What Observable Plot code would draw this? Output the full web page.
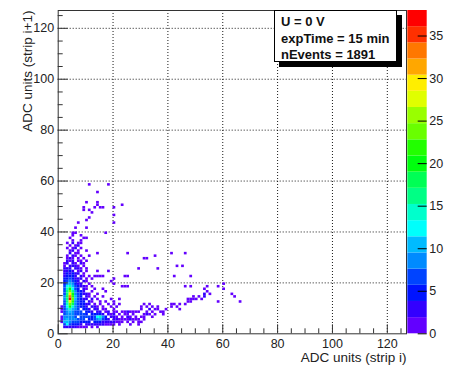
<!DOCTYPE html>
<html><head><meta charset="utf-8">
<script src="https://cdn.jsdelivr.net/npm/d3@7"></script>
<script src="https://cdn.jsdelivr.net/npm/@observablehq/plot@0.6"></script>
<style>
html,body{margin:0;padding:0;background:#fff;}
#wrap{position:relative;width:452px;height:368px;font-family:"Liberation Sans",Arial,Helvetica,sans-serif;}
#wrap svg{position:absolute;left:0;top:0;}
#stats{position:absolute;left:274px;top:10px;width:123px;height:52px;border:1px solid #000;background:#fff;
  box-shadow:5px 5px 0 #000;box-sizing:border-box;padding:3px 0 0 6px;font-weight:bold;font-size:13px;line-height:16.7px;color:#111;white-space:nowrap;}
</style></head>
<body><div id="wrap"></div>
<script>
// ---- chart values ----
const xRange = [0, 127];
const yRange = [0, 127];
const xTicks = [0, 20, 40, 60, 80, 100, 120];
const yTicks = [0, 20, 40, 60, 80, 100, 120];
const colorTicks = [0, 5, 10, 15, 20, 25, 30, 35];
const zMax = 38;
const nContours = 20;
const xTitle = "ADC units (strip i)";
const yTitle = "ADC units (strip i+1)";
const statsLines = ["U = 0 V", "expTime = 15 min", "nEvents = 1891"];

// dense region counts: columns x = 1..24, rows y = 40 (first) down to 2 (last)
const denseX0 = 1;
const denseYTop = 40;
const denseRows = [
  [0,0,0,0,0,0,0,0,0,0,0,0,0,0,0,0,0,0,0,0,0,0,0,0],
  [0,0,0,0,1,1,0,0,0,0,0,0,0,0,0,0,1,0,0,0,0,0,0,0],
  [0,0,0,0,1,0,0,1,0,0,0,0,0,0,0,0,0,0,0,0,0,0,0,0],
  [0,0,0,1,0,0,0,0,1,1,0,0,0,0,0,0,0,0,0,0,0,0,0,0],
  [0,0,0,0,1,0,0,1,0,0,0,0,0,0,0,0,0,0,0,0,0,0,0,0],
  [0,0,1,0,2,0,1,1,0,0,0,0,0,0,0,0,0,0,0,0,0,0,0,0],
  [0,0,0,1,0,1,2,0,0,0,0,0,0,0,0,0,0,0,0,0,0,0,0,0],
  [0,0,1,0,1,2,0,1,0,0,0,0,0,0,0,0,0,0,0,0,0,0,0,0],
  [0,0,0,1,2,0,1,0,0,1,0,0,0,0,0,0,0,0,0,0,0,0,0,0],
  [0,0,0,2,0,1,1,0,0,0,0,0,0,1,0,0,0,0,0,0,0,0,0,0],
  [0,0,1,0,2,1,0,1,0,0,1,0,0,0,0,0,0,0,0,0,0,0,0,0],
  [0,0,1,2,1,0,1,0,1,0,0,0,0,0,0,0,0,0,0,0,0,0,0,0],
  [0,0,2,1,2,0,1,1,0,1,0,0,0,0,0,0,0,0,0,0,0,0,0,0],
  [0,1,2,0,2,1,0,2,1,0,0,0,0,0,0,0,0,0,0,0,0,0,0,0],
  [0,1,0,3,2,2,1,0,1,0,0,0,0,0,0,0,0,0,0,0,0,0,0,0],
  [0,2,3,2,0,2,2,1,0,1,0,0,0,0,0,0,0,0,0,0,0,0,0,0],
  [0,2,3,4,3,0,1,2,0,1,0,0,0,1,0,0,0,1,0,0,0,0,0,0],
  [0,3,4,3,4,3,2,0,1,0,0,0,0,0,0,0,0,0,0,0,0,0,0,0],
  [0,3,4,5,4,3,0,2,1,0,1,0,1,1,1,1,0,0,0,0,0,0,0,1],
  [0,4,5,6,5,3,3,2,0,1,0,1,0,0,0,0,0,0,0,1,0,0,0,0],
  [0,4,7,8,6,4,3,0,2,1,0,0,0,0,0,0,0,0,1,0,0,0,0,0],
  [0,5,9,11,8,5,3,2,0,0,1,0,0,0,0,0,0,0,0,1,0,0,0,0],
  [0,6,12,15,10,6,4,3,2,1,0,1,0,0,0,0,0,0,0,0,0,0,1,1],
  [0,6,14,19,13,7,5,0,2,1,0,0,1,0,0,1,0,0,0,0,0,0,0,0],
  [0,7,16,24,17,8,5,4,2,0,0,1,0,0,0,0,1,0,0,0,0,0,0,0],
  [0,7,17,29,20,9,6,4,3,2,1,0,0,1,0,0,0,0,0,0,0,0,0,0],
  [0,8,18,34,22,10,6,5,0,2,1,0,1,0,0,1,0,0,0,0,0,0,0,0],
  [0,8,17,38,24,10,7,5,3,2,0,2,0,1,0,0,0,0,1,0,0,1,0,0],
  [0,7,16,30,21,9,7,5,4,0,2,1,0,0,1,0,1,0,0,1,0,0,0,0],
  [0,7,15,24,18,9,6,5,4,3,2,0,1,0,1,0,0,1,0,1,0,1,0,0],
  [1,6,13,19,14,8,6,5,4,3,0,2,2,1,0,1,0,0,1,0,1,0,0,0],
  [1,6,11,14,11,8,6,0,5,4,3,0,2,2,0,1,1,0,0,1,0,0,0,0],
  [1,7,9,10,9,7,6,6,0,5,4,3,0,3,2,0,1,2,0,1,1,0,1,1],
  [0,7,8,9,8,7,7,6,6,5,0,4,4,5,4,3,0,2,1,2,0,1,0,1],
  [1,8,9,9,8,7,0,7,6,6,6,5,6,12,14,8,4,0,2,2,1,0,1,0],
  [1,9,10,9,8,8,7,6,6,0,5,5,6,9,10,7,4,3,0,2,2,1,1,1],
  [1,10,11,9,7,6,6,5,5,5,4,0,4,5,4,3,3,2,2,2,1,1,1,0],
  [0,7,12,7,5,4,4,3,0,3,3,3,2,2,2,2,1,1,1,1,0,1,0,0],
  [0,2,3,3,2,2,1,1,1,1,0,1,0,1,0,0,0,0,0,0,0,0,0,0]
];

// scattered cells outside the dense block
const extraX = [11,18,14,10,14,14,13,15,9,16,20,23,9,11,12,20,11,10,7,20,6,10,
  25,31,32,35,29,36,41,46,43,45,25,42,48,25,46,48,
  41,42,44,46,41,43,44,47,48,47,48,49,50,51,49,52,53,53,54,53,54,55,58,58,60,60,63,64,66,
  31,33,30,32,34,36,30,33,35,36,39,25,26,27,28,29,32,34,37,38,25,27,31,32,33,35,38,
  25,26,28,30,31,34,25,26,27,28,29,31,25,27,29,30,26,29];
const extraY = [58,58,55,51,51,50,49,49,49,49,49,50,48,48,47,46,45,44,43,43,41,41,
  31,29,29,30,25,25,31,31,26,26,22,22,22,18,18,18,
  11,11,11,11,10,10,9,12,12,13,13,13,13,14,14,13,14,15,16,17,18,15,12,18,17,19,15,14,12,
  11,11,10,10,10,10,9,9,9,9,9,8,8,8,8,8,8,8,8,8,7,7,7,7,7,7,7,
  6,6,6,6,6,6,5,5,5,5,5,5,4,4,4,4,3,3];
const extraN = [1,1,1,1,1,1,1,1,1,1,1,1,1,1,1,1,1,1,1,1,1,1,
  1,1,1,1,1,1,1,1,1,1,1,1,1,1,1,1,
  1,1,1,1,1,1,1,1,1,1,1,1,1,1,1,1,2,2,1,1,1,1,1,1,1,1,1,1,1,
  1,1,1,1,1,1,1,2,1,1,1,2,1,1,1,1,1,1,1,1,1,1,1,2,1,1,1,
  2,1,1,1,1,1,1,2,1,1,1,1,1,1,1,1,1,1];

// ---- build cells ----
const cells = [];
denseRows.forEach((row, r) => row.forEach((n, c) => {
  if (n > 0) cells.push({x: denseX0 + c, y: denseYTop - r, n});
}));
extraX.forEach((x, i) => cells.push({x, y: extraY[i], n: extraN[i]}));

// ROOT "pretty" palette (50 hues, 280 -> 0), sampled for 20 contours
const palette = d3.range(nContours).map(k => {
  const idx = Math.floor((k + 0.99) * 50 / nContours);
  const hue = 280 - (idx + 1) * 5.6;
  return d3.hsl(hue, 1, 0.5).formatHex();
});
const thresholds = d3.range(1, nContours).map(k => k * zMax / nContours);
const bands = d3.range(nContours).map(k => ({lo: k * zMax / nContours, hi: (k + 1) * zMax / nContours}));

const W = 452, H = 368;
const mL = 57.7, mR = 46, mT = 10, mB = 34.7;
const innerW = W - mL - mR, innerH = H - mT - mB;
const xMinor = d3.range(0, 127, 5).filter(v => v % 20 !== 0);
const yMinor = d3.range(0, 127, 5).filter(v => v % 20 !== 0);
const font = '"Liberation Sans", Arial, Helvetica, sans-serif';
const colorOpts = {type: "threshold", domain: thresholds, range: palette};

const main = Plot.plot({
  width: W, height: H,
  marginLeft: mL, marginRight: mR, marginTop: mT, marginBottom: mB,
  x: {domain: xRange},
  y: {domain: yRange},
  color: colorOpts,
  style: {fontFamily: font, fontSize: "12px", color: "#222", background: "#fff", overflow: "visible"},
  marks: [
    Plot.gridX(xTicks.slice(1), {stroke: "#000", strokeOpacity: 0.9, strokeDasharray: "1,2"}),
    Plot.gridY(yTicks.slice(1), {stroke: "#000", strokeOpacity: 0.9, strokeDasharray: "1,2"}),
    Plot.rect(cells, {x1: "x", x2: d => d.x + 1, y1: "y", y2: d => d.y + 1, fill: "n"}),
    Plot.frame({stroke: "#333"}),
    Plot.tickX(xTicks, {x: d => d, insetTop: innerH - 9, stroke: "#333"}),
    Plot.tickX(xMinor, {x: d => d, insetTop: innerH - 5, stroke: "#333"}),
    Plot.tickY(yTicks, {y: d => d, insetRight: innerW - 10, stroke: "#333"}),
    Plot.tickY(yMinor, {y: d => d, insetRight: innerW - 5, stroke: "#333"}),
    Plot.axisX(xTicks, {anchor: "bottom", tickSize: 0, tickPadding: 5, label: null, fontSize: 12.5}),
    Plot.axisY(yTicks, {anchor: "left", tickSize: 0, tickPadding: 4, label: null, fontSize: 12.5}),
    Plot.text([xTitle], {frameAnchor: "bottom-right", dy: 28, textAnchor: "end", fontSize: 13.5, fill: "#222"}),
    Plot.text([yTitle], {frameAnchor: "top-left", dx: -36, rotate: -90, textAnchor: "end", fontSize: 13.5, fill: "#222"})
  ]
});

const barL = 407.3, barR = 426.7;
const bar = Plot.plot({
  width: W, height: H,
  marginLeft: barL, marginRight: W - barR, marginTop: mT, marginBottom: mB,
  y: {domain: [0, zMax]},
  color: colorOpts,
  style: {fontFamily: font, fontSize: "12px", color: "#222", background: "transparent", overflow: "visible"},
  marks: [
    Plot.rect(bands, {y1: "lo", y2: "hi", fill: d => (d.lo + d.hi) / 2}),
    Plot.tickY(colorTicks, {y: d => d, insetLeft: (barR - barL) - 9, stroke: "#000"}),
    Plot.axisY(colorTicks, {anchor: "right", tickSize: 0, tickPadding: 2, label: null, fontSize: 12.5})
  ]
});

const wrap = document.getElementById("wrap");
wrap.appendChild(main);
wrap.appendChild(bar);
const stats = document.createElement("div");
stats.id = "stats";
stats.innerHTML = statsLines.map(s => `<div>${s}</div>`).join("");
wrap.appendChild(stats);
</script>
</body></html>
